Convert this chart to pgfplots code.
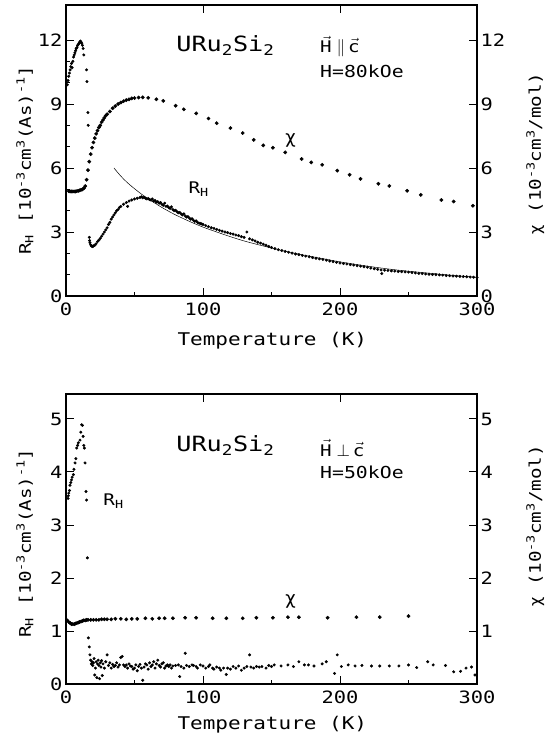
\documentclass[border=0pt]{standalone}
\usepackage{pgfplots}
\pgfplotsset{compat=1.18}
\usepackage{fontspec}
\setmainfont{DejaVu Sans Mono}[FakeStretch=1.2]
\newfontfamily\grk{DejaVu Sans}
\newcommand{\vH}{\ensuremath{\vec{\mbox{H}}}}
\newcommand{\vc}{\ensuremath{\vec{\mbox{c}}}}
\pgfplotsset{
  common/.style={
    scale only axis, width=411bp, xmin=0, xmax=300,
    tick align=inside, major tick length=8bp, minor tick length=4bp,
    axis line style={line width=1.1bp},
    every tick/.style={line width=0.9bp, black},
    tick label style={font=\fontsize{17bp}{20bp}\selectfont},
    xticklabel style={yshift=-3bp},
    label style={font=\fontsize{16bp}{19bp}\selectfont},
    /pgf/number format/assume math mode=true,
  },
  chi/.style={only marks, mark=*, mark size=1.7bp, black},
  rh/.style={only marks, mark=*, mark size=1.3bp, black},
}
\begin{document}
\begin{tikzpicture}
\path[use as bounding box] (0bp,0bp) rectangle (550bp,-744bp);

% ================= TOP PANEL =================
\begin{axis}[common, at={(66bp,-296bp)}, anchor=south west, height=291bp,
  ymin=0, ymax=13.64,
  xtick={0,100,200,300}, minor xtick={50,150,250},
  ytick={0,3,6,9,12}, minor ytick={1,2,4,5,7,8,10,11},
  xtick pos=bottom, ytick pos=left,
  xlabel={Temperature (K)},
  ylabel={R\textsubscript{H} [10\textsuperscript{-3}cm\textsuperscript{3}(As)\textsuperscript{-1}]},
  xlabel style={at={(axis description cs:0.502,-0.155)}, anchor=center, font=\fontsize{17.5bp}{20bp}\selectfont},
  ylabel style={at={(axis description cs:-0.1,0.467)}, anchor=center},
]
% R_H data
\addplot[rh] coordinates {
(1,9.9)(1.5,10.1)(2,10.3)(2.5,10.45)(3,10.6)(3.5,10.75)(4,10.9)(4.5,10.7)(5,11.0)(5.5,11.2)(6,11.3)(6.5,11.4)(7,11.5)(7.5,11.6)(8,11.65)(8.5,11.75)(9,11.8)(9.5,11.85)(10,11.9)(10.5,11.95)(11,11.9)(11.5,11.85)(12,11.75)(12.5,11.6)(13,11.3)
(15,10.6)(15.3,10.05)(16,8.6)(16.2,8.0)
(17,2.75)(17.2,2.6)(17.5,2.5)(18,2.4)(18.5,2.35)(19,2.33)(19.5,2.32)(20,2.35)(21,2.38)(22,2.45)(23,2.55)(24,2.62)(25,2.7)(26,2.8)(27,2.9)(28,3.0)(29,3.1)(30,3.2)(31,3.35)(32,3.45)(33,3.6)(34,3.7)(35,3.8)(36,3.9)(37,4.0)(38,4.05)(39,4.15)(40,4.2)(42,4.3)(44,4.38)(45,4.2)(46,4.45)(48,4.5)(50,4.55)(52,4.58)(54,4.62)(55,4.65)(56,4.6)(57,4.63)(58,4.58)(59,4.55)(60,4.57)(61,4.52)(62,4.5)(63,4.55)(64,4.45)(65,4.48)(66,4.4)(67,4.42)(68,4.35)(69,4.38)(70,4.3)(71,4.25)(72,4.35)(73,4.2)(74,4.22)(75,4.15)(76,4.1)(77,4.18)(78,4.05)(79,4.0)(80,4.02)(81,3.95)(82,3.9)(83,3.92)(84,3.85)(85,3.8)(86,3.85)(87,3.75)(88,3.7)(89,3.72)(90,3.65)(91,3.6)(92,3.62)(93,3.55)(94,3.5)(95,3.52)(96,3.45)(97,3.42)(98,3.4)(99,3.38)(100,3.35)
(102,3.3)(104,3.25)(106,3.2)(108,3.17)(110,3.12)(112,3.08)(114,3.04)(116,3.0)(118,2.97)(120,2.93)(122,2.9)(124,2.86)(126,2.83)(128,2.78)(130,2.75)(132,3.0)(134,2.68)(136,2.63)(138,2.58)(140,2.52)(142,2.48)(144,2.43)(146,2.38)(148,2.32)(150,2.27)
(152.5,2.22)(155,2.17)(157.5,2.13)(160,2.09)(162.5,2.05)(165,2.01)(167.5,1.97)(170,1.94)(172.5,1.9)(175,1.87)(177.5,1.84)(180,1.8)(182.5,1.77)(185,1.74)(187.5,1.71)(190,1.68)(192.5,1.64)(195,1.61)(197.5,1.58)(200,1.55)(202.5,1.52)(205,1.5)(207.5,1.47)(210,1.45)(212.5,1.42)(215,1.4)(217.5,1.37)(220,1.35)(222.5,1.31)(225,1.28)(227.5,1.25)(230,1.22)(230.5,1.05)(232.5,1.21)(235,1.2)(237.5,1.18)(240,1.17)(242.5,1.15)(245,1.14)(247.5,1.13)(250,1.12)(252.5,1.1)(255,1.08)(257.5,1.06)(260,1.05)(262.5,1.03)(265,1.02)(267.5,1.01)(270,1.0)(272.5,0.99)(275,0.98)(277.5,0.96)(280,0.95)(282.5,0.94)(285,0.93)(287.5,0.92)(290,0.91)(292.5,0.9)(295,0.89)(297.5,0.88)(300,0.87)
};
% fit curve
\addplot[black, line width=0.5bp, smooth, no marks] coordinates {
(35,6.0)(40,5.62)(45,5.3)(50,5.03)(55,4.78)(60,4.55)(65,4.35)(70,4.15)(75,3.97)(80,3.8)(90,3.5)(100,3.23)(110,3.0)(120,2.78)(130,2.58)(140,2.41)(150,2.25)(160,2.1)(175,1.9)(190,1.72)(200,1.6)(220,1.4)(240,1.23)(260,1.1)(280,0.98)(300,0.88)
};
\node[anchor=west, font=\fontsize{21bp}{25bp}\selectfont] at (axis cs:78,11.73) {URu\textsubscript{2}Si\textsubscript{2}};
\node[anchor=west, font=\fontsize{16bp}{19bp}\selectfont] at (axis cs:183,11.7) {\vH$\;\parallel\,$\vc};
\node[anchor=west, font=\fontsize{16.5bp}{19bp}\selectfont] at (axis cs:183,10.52) {H=80kOe};
\node[anchor=west, font=\fontsize{16bp}{19bp}\selectfont] at (axis cs:86.9,5.0) {R\textsubscript{H}};
\node[font=\fontsize{18bp}{20bp}\grk] at (axis cs:164,7.3) {χ};
\end{axis}

\begin{axis}[common, at={(66bp,-296bp)}, anchor=south west, height=291bp,
  ymin=0, ymax=13.64,
  axis x line*=top, axis y line*=right,
  xtick={100,200}, xticklabels={},
  ytick={0,3,6,9,12},
  ylabel={{\grk χ} (10\textsuperscript{-3}cm\textsuperscript{3}/mol)},
  ylabel style={at={(axis description cs:1.142,0.49)}, anchor=center},
]
\addplot[chi] coordinates {
(2,4.92)(3,4.9)(4,4.9)(5,4.9)(6,4.9)(7,4.9)(8,4.92)(9,4.93)(10,4.95)(11,4.98)(12,5.0)(13,5.05)(14,5.15)(15,5.45)(16,5.9)(17,6.3)(18,6.65)(19,6.95)(20,7.2)(21,7.4)(22,7.6)(23,7.75)(24,7.9)(25,8.0)(26,8.15)(27,8.25)(28,8.35)(29,8.45)(30,8.52)(32,8.65)(34,8.8)(36,8.9)(38,9.0)(40,9.07)(42,9.13)(44,9.18)(46,9.22)(48,9.26)(50,9.28)(53,9.3)(56,9.31)(60,9.29)(66,9.22)(71,9.15)(80,8.92)(86,8.75)(95,8.56)(104,8.32)(110,8.1)(120,7.87)(129,7.64)(137,7.32)(144,7.06)(151,6.95)(160,6.73)(172,6.42)(179,6.26)(187,6.15)(198,5.88)(207,5.68)(215,5.49)(228,5.26)(236,5.16)(249,4.93)(259,4.74)(274,4.5)(283,4.43)(297,4.23)
};
\end{axis}

% ================= BOTTOM PANEL =================
\begin{axis}[common, at={(66bp,-684bp)}, anchor=south west, height=290bp,
  ymin=0, ymax=5.47,
  xtick={0,100,200,300}, minor xtick={50,150,250},
  ytick={0,1,2,3,4,5},
  xtick pos=bottom, ytick pos=left,
  xlabel={Temperature (K)},
  ylabel={R\textsubscript{H} [10\textsuperscript{-3}cm\textsuperscript{3}(As)\textsuperscript{-1}]},
  xlabel style={at={(axis description cs:0.502,-0.14)}, anchor=center, font=\fontsize{17.5bp}{20bp}\selectfont},
  ylabel style={at={(axis description cs:-0.1,0.486)}, anchor=center},
]
\addplot[rh] coordinates {
(1.5,3.5)(1.7,3.55)(2,3.6)(2.5,3.65)(2.9,3.75)(3.5,3.8)(4,3.85)(4.5,3.9)(5.4,3.95)(5.8,4.05)(6.6,4.17)(7.2,4.25)(7.8,4.45)(8.5,4.5)(9,4.55)(10.2,4.6)(10.8,4.75)(11.4,4.89)(12,4.88)(12.5,4.67)(13,4.5)(13.4,4.45)(13.9,4.17)(14.6,3.63)(15,3.47)(15.6,2.38)
(16.3,0.87)(17,0.7)(17.5,0.55)(18,0.45)(18.5,0.38)(19,0.42)(19.5,0.35)(20,0.4)(20.5,0.48)(21,0.17)(21.5,0.3)(22,0.42)(22.5,0.12)(23,0.38)(23.5,0.45)(24,0.35)(24.5,0.1)(25,0.4)(25.5,0.32)(26,0.44)(26.5,0.16)(27,0.38)(28,0.3)(29,0.42)(30,0.55)(31,0.35)(32,0.4)(33,0.3)(34,0.37)(35,0.33)(36,0.35)(37,0.4)(38,0.32)(39,0.36)(40,0.5)(41,0.52)(42,0.36)(43,0.33)(44,0.36)(45,0.3)(46,0.38)(47,0.34)(48,0.33)(49,0.28)(50,0.3)(51,0.36)(52,0.25)(53,0.33)(54,0.37)(55,0.3)(56,0.07)(57,0.32)(58,0.38)(59,0.36)(60,0.28)(61,0.4)(62,0.33)(63,0.36)(64,0.42)(65,0.3)(66,0.38)(67,0.45)(68,0.35)(69,0.32)(70,0.38)(71,0.4)(72,0.3)(73,0.34)(74,0.36)(75,0.33)(76,0.36)(77,0.3)(78,0.34)(80,0.35)(82,0.36)(83,0.14)(84,0.33)(86,0.3)(87,0.58)(88,0.35)(90,0.33)(92,0.36)(93,0.35)(95,0.33)(96,0.3)(98,0.36)(100,0.34)(102,0.3)(104,0.33)(105,0.36)(107,0.3)(108,0.28)(110,0.32)(112,0.3)(113,0.26)(115,0.3)(117,0.18)(118,0.3)(120,0.28)(122,0.33)(124,0.3)(126,0.34)(128,0.26)(130,0.3)(132,0.33)(134,0.55)(135,0.32)(137,0.3)(139,0.33)(141,0.32)(143,0.33)(146,0.3)(148,0.35)(150,0.33)
(152,0.36)(157,0.34)(162,0.36)(166,0.33)(170,0.42)(174,0.36)(177,0.36)(181,0.34)(187,0.38)(190,0.42)(196,0.2)(198,0.55)(201,0.33)(206,0.36)(211,0.34)(216,0.35)(223,0.34)(229,0.34)(236,0.34)(243,0.34)(250,0.36)(256,0.31)(264,0.42)(268,0.36)(277,0.35)(283,0.23)(288,0.24)(292,0.3)(296,0.32)(298.5,0.17)
};
\node[anchor=west, font=\fontsize{21bp}{25bp}\selectfont] at (axis cs:78,4.5) {URu\textsubscript{2}Si\textsubscript{2}};
\node[anchor=west, font=\fontsize{16bp}{19bp}\selectfont] at (axis cs:183,4.45) {\vH$\;\perp\,$\vc};
\node[anchor=west, font=\fontsize{16.5bp}{19bp}\selectfont] at (axis cs:183,4.0) {H=50kOe};
\node[anchor=west, font=\fontsize{16bp}{19bp}\selectfont] at (axis cs:24.8,3.45) {R\textsubscript{H}};
\node[font=\fontsize{18bp}{20bp}\grk] at (axis cs:164,1.55) {χ};
\end{axis}

\begin{axis}[common, at={(66bp,-684bp)}, anchor=south west, height=290bp,
  ymin=0, ymax=5.47,
  axis x line*=top, axis y line*=right,
  xtick={100,200}, xticklabels={},
  ytick={1,2,3,4,5},
  ylabel={{\grk χ} (10\textsuperscript{-3}cm\textsuperscript{3}/mol)},
  ylabel style={at={(axis description cs:1.142,0.545)}, anchor=center},
]
\addplot[chi] coordinates {
(1,1.2)(2,1.17)(3,1.15)(4,1.13)(5,1.13)(6,1.13)(7,1.14)(8,1.15)(9,1.16)(10,1.17)(11,1.18)(12,1.19)(13,1.2)(14,1.2)(15,1.21)(16,1.21)(18,1.21)(20,1.21)(22,1.21)(24,1.21)(26,1.22)(28,1.22)(30,1.22)(33,1.22)(36,1.23)(40,1.23)(44,1.22)(48,1.23)(52,1.23)(58,1.24)(63,1.23)(68,1.24)(72,1.24)(78,1.24)(87,1.25)(95,1.25)(107,1.24)(117,1.24)(129,1.24)(139,1.25)(151,1.25)(162,1.26)(170,1.26)(191,1.25)(212,1.26)(229,1.26)(250,1.28)
};
\end{axis}
\end{tikzpicture}
\end{document}
